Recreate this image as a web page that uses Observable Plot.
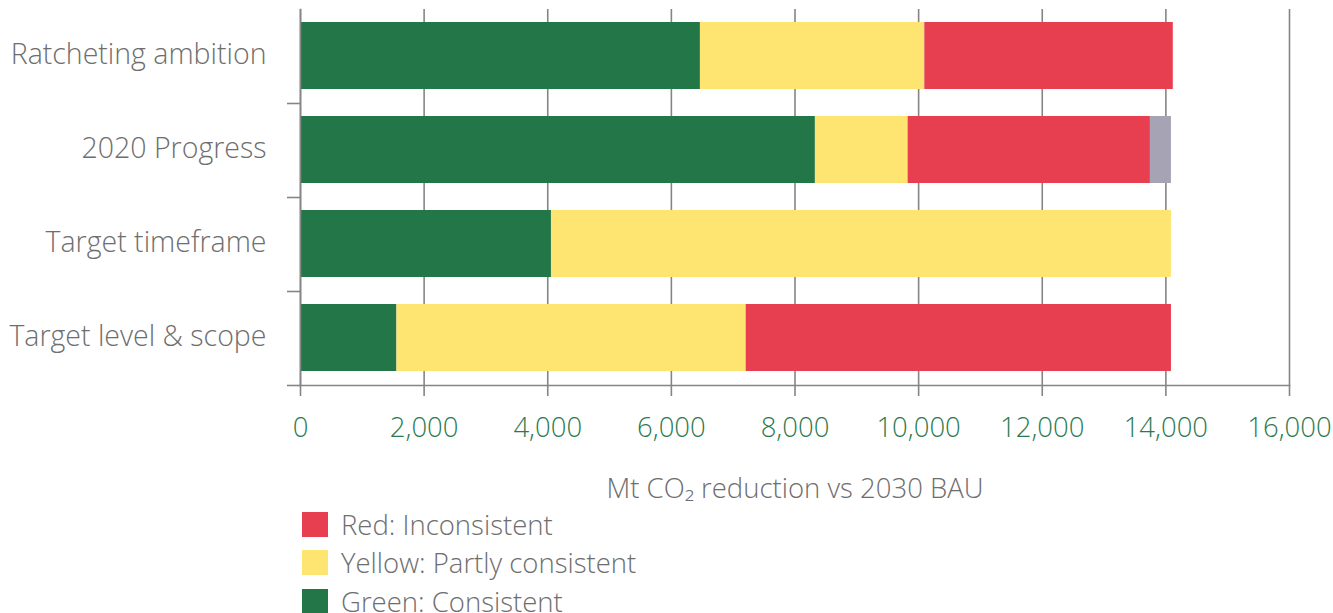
<!DOCTYPE html>
<html>
<head>
<meta charset="utf-8">
<script src="https://cdn.jsdelivr.net/npm/d3@7"></script>
<script src="https://cdn.jsdelivr.net/npm/@observablehq/plot@0.6"></script>
<style>
  html, body { margin: 0; padding: 0; background: #fff; }
  body { width: 1333px; height: 613px; overflow: hidden; font-family: "Open Sans", sans-serif; font-weight: 300; }
  #chart svg { display: block; }
  #legend { margin-left: 302px; margin-top: 0px; }
  .item { display: flex; align-items: center; height: 38.5px; }
  .sw { width: 26px; height: 25px; margin-right: 13px; flex: none; }
  .lab { font-size: 27.5px; color: #6e6e6e; line-height: 25px; }
</style>
</head>
<body>
<div id="chart"></div>
<div id="legend"></div>
<script>
const categories = ["Ratcheting ambition", "2020 Progress", "Target timeframe", "Target level & scope"];
const statuses = ["Consistent", "Partly consistent", "Inconsistent", "Not rated"];
const greenValues  = [6470, 8330, 4060, 1560];
const yellowValues = [3630, 1500, 10030, 5650];
const redValues    = [4020, 3920, 0, 6880];
const greyValues   = [0, 340, 0, 0];
const statusColors = ["#237647", "#FEE571", "#E73F4F", "#A6A3B5"];
const xTicks = [0, 2000, 4000, 6000, 8000, 10000, 12000, 14000, 16000];
const xLabel = "Mt CO₂ reduction vs 2030 BAU";
const legendItems = ["Red: Inconsistent", "Yellow: Partly consistent", "Green: Consistent"];
const legendColors = ["#E73F4F", "#FEE571", "#237647"];

const seriesValues = [greenValues, yellowValues, redValues, greyValues];
const rows = [];
categories.forEach((c, i) => {
  statuses.forEach((s, j) => {
    rows.push({category: c, status: s, value: seriesValues[j][i]});
  });
});

const axisGray = "#858585";
const chart = Plot.plot({
  width: 1333,
  height: 505,
  marginTop: 9,
  marginBottom: 120,
  marginLeft: 300,
  marginRight: 44,
  style: {fontFamily: "'Open Sans', sans-serif", fontWeight: 300, background: "#fff", color: "#6e6e6e", overflow: "visible"},
  x: {domain: [0, 16000]},
  y: {domain: categories, padding: 0},
  color: {domain: statuses, range: statusColors},
  marks: [
    Plot.gridX(xTicks, {stroke: axisGray, strokeOpacity: 1, strokeWidth: 1.6}),
    Plot.barX(rows, Plot.stackX({y: "category", x: "value", fill: "status", order: statuses, insetTop: 13, insetBottom: 14})),
    Plot.frame({anchor: "left", stroke: axisGray, strokeWidth: 1.6}),
    Plot.frame({anchor: "bottom", stroke: axisGray, strokeWidth: 1.6}),
    Plot.axisX(xTicks, {tickSize: 11, text: null, stroke: axisGray, strokeWidth: 1.6, label: null}),
    Plot.axisX(xTicks, {tickSize: 0, tickPadding: 32, tickFormat: d3.format(","), fill: "#2B7A4F", fontSize: 27.5, label: null}),
    Plot.axisX(xTicks, {tickSize: 0, text: null, label: xLabel, labelAnchor: "center", labelArrow: "none", labelOffset: 112, fontSize: 27.5, fill: "#6e6e6e"}),
    Plot.axisY({tickSize: 0, tickPadding: 34, fontSize: 28.5, fill: "#6e6e6e", label: null, dy: -1.5}),
    Plot.axisY({tickSize: 13, text: null, dy: 47, stroke: axisGray, strokeWidth: 1.6, label: null})
  ]
});
document.getElementById("chart").appendChild(chart);

const legend = document.getElementById("legend");
legendItems.forEach((t, i) => {
  const item = document.createElement("div");
  item.className = "item";
  const sw = document.createElement("div");
  sw.className = "sw";
  sw.style.background = legendColors[i];
  const lab = document.createElement("span");
  lab.className = "lab";
  lab.textContent = t;
  item.appendChild(sw);
  item.appendChild(lab);
  legend.appendChild(item);
});
</script>
</body>
</html>
